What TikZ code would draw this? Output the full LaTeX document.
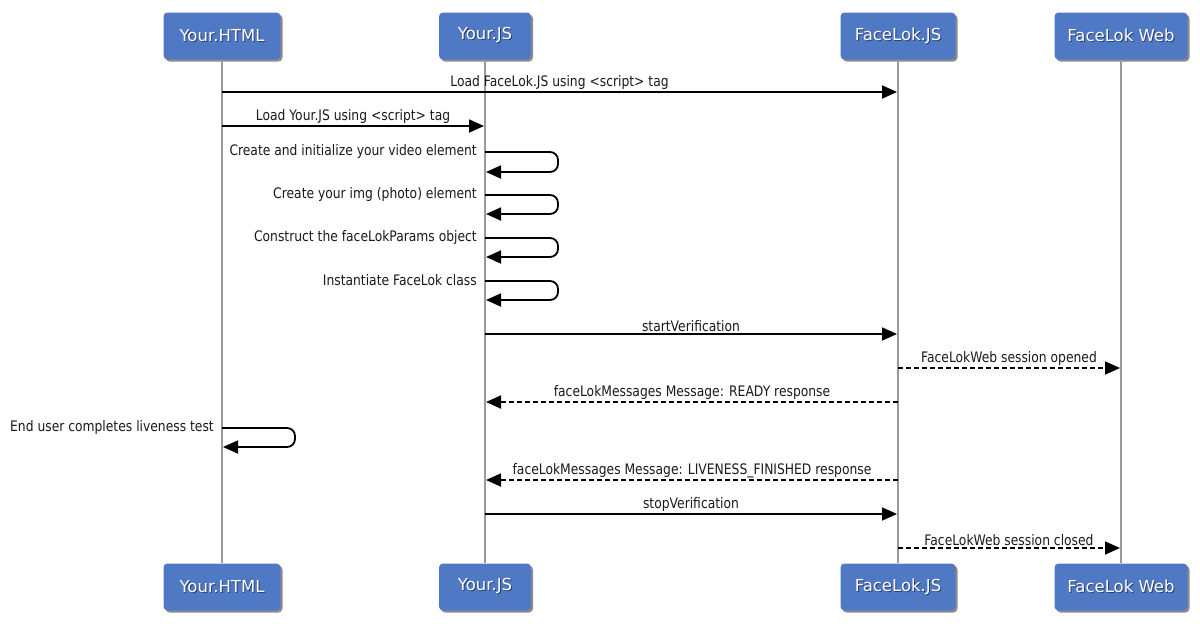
\documentclass[tikz,border=0pt]{standalone}
\usepackage{fontspec}
\setmainfont{DejaVu Sans}
\newfontfamily\msgfont[FakeStretch=0.85]{DejaVu Sans}
\newfontfamily\boxfont{DejaVu Sans}
\usetikzlibrary{arrows.meta,shadows}
\definecolor{boxblue}{HTML}{5079C5}
\definecolor{lifegray}{HTML}{9A9A9A}
\definecolor{msgtext}{HTML}{1A1A1A}
\definecolor{txtshadow}{HTML}{2B4275}
\newcommand\shtext[1]{\leavevmode\rlap{\kern1pt\raisebox{-1pt}{\textcolor{txtshadow}{#1}}}#1}
\tikzset{
  actor/.style={draw=none, fill=boxblue, rounded corners=4pt, minimum height=47pt,
    inner xsep=0pt, text=white, font=\boxfont\fontsize{16.5}{18}\selectfont,
    drop shadow={shadow xshift=2pt, shadow yshift=-2pt, opacity=0.45, fill=black}},
  life/.style={draw=lifegray, line width=1.6pt},
  msg/.style={draw=black, line width=1.8pt, -{Triangle[length=15pt,width=13pt]}},
  reply/.style={msg, dash pattern=on 5pt off 3pt},
  selfloop/.style={msg, rounded corners=8pt},
  lbl/.style={font=\msgfont\fontsize{14.5}{16}\selectfont, text=msgtext, inner sep=0pt}
}
\begin{document}
\begin{tikzpicture}[x=1pt,y=-1pt]
\useasboundingbox (0,0) rectangle (1200,625);
% actors top
\node[actor, minimum width=117pt] (hT) at (222,36) {\shtext{Your.HTML}};
\node[actor, minimum width=92pt] (jT) at (485,36) {\shtext{Your.JS}};
\node[actor, minimum width=115pt] (fT) at (898,36) {\shtext{FaceLok.JS}};
\node[actor, minimum width=133pt] (wT) at (1121,36) {\shtext{FaceLok Web}};
% actors bottom
\node[actor, minimum width=117pt] (hB) at (222,587) {\shtext{Your.HTML}};
\node[actor, minimum width=92pt] (jB) at (485,587) {\shtext{Your.JS}};
\node[actor, minimum width=115pt] (fB) at (898,587) {\shtext{FaceLok.JS}};
\node[actor, minimum width=133pt] (wB) at (1121,587) {\shtext{FaceLok Web}};
% lifelines
\draw[life] (hT.south) -- (hB.north);
\draw[life] (jT.south) -- (jB.north);
\draw[life] (fT.south) -- (fB.north);
\draw[life] (wT.south) -- (wB.north);
% message coordinates
\coordinate (m1a) at (222,92);  \coordinate (m1b) at (897,92);
\coordinate (m2a) at (222,126); \coordinate (m2b) at (484,126);
\coordinate (s1a) at (485,152); \coordinate (s1b) at (486,172);
\coordinate (s2a) at (485,195); \coordinate (s2b) at (486,214);
\coordinate (s3a) at (485,238); \coordinate (s3b) at (486,257);
\coordinate (s4a) at (485,281); \coordinate (s4b) at (486,300);
\coordinate (m7a) at (485,334); \coordinate (m7b) at (897,334);
\coordinate (m8a) at (898,368); \coordinate (m8b) at (1120,368);
\coordinate (m9a) at (898,402); \coordinate (m9b) at (486,402);
\coordinate (s5a) at (222,428); \coordinate (s5b) at (223,447);
\coordinate (m11a) at (898,480); \coordinate (m11b) at (486,480);
\coordinate (m12a) at (485,514); \coordinate (m12b) at (897,514);
\coordinate (m13a) at (898,548); \coordinate (m13b) at (1120,548);
% messages
\draw[msg] (m1a) -- node[lbl, above=1.5pt] (l1) {Load FaceLok.JS using <script> tag} (m1b);
\draw[msg] (m2a) -- node[lbl, above=1.5pt] (l2) {Load Your.JS using <script> tag} (m2b);
\draw[selfloop] (s1a) -- ++(73,0) -- ++(0,20) -- (s1b);
\node[lbl, anchor=east] (l3) at ([xshift=-8pt,yshift=0.5pt]s1a) {Create and initialize your video element};
\draw[selfloop] (s2a) -- ++(73,0) -- ++(0,19) -- (s2b);
\node[lbl, anchor=east] (l4) at ([xshift=-8pt,yshift=0.5pt]s2a) {Create your img (photo) element};
\draw[selfloop] (s3a) -- ++(73,0) -- ++(0,19) -- (s3b);
\node[lbl, anchor=east] (l5) at ([xshift=-8pt,yshift=0.5pt]s3a) {Construct the faceLokParams object};
\draw[selfloop] (s4a) -- ++(73,0) -- ++(0,19) -- (s4b);
\node[lbl, anchor=east] (l6) at ([xshift=-8pt,yshift=0.5pt]s4a) {Instantiate FaceLok class};
\draw[msg] (m7a) -- node[lbl, above=1.5pt] (l7) {startVerification} (m7b);
\draw[reply] (m8a) -- node[lbl, above=1.5pt] (l8) {FaceLokWeb session opened} (m8b);
\draw[reply] (m9a) -- node[lbl, above=1.5pt] (l9) {faceLokMessages Message: READY response} (m9b);
\draw[selfloop] (s5a) -- ++(73,0) -- ++(0,19) -- (s5b);
\node[lbl, anchor=east] (l10) at ([xshift=-8pt,yshift=0.5pt]s5a) {End user completes liveness test};
\draw[reply] (m11a) -- node[lbl, above=1.5pt] (l11) {faceLokMessages Message: LIVENESS\_FINISHED response} (m11b);
\draw[msg] (m12a) -- node[lbl, above=1.5pt] (l12) {stopVerification} (m12b);
\draw[reply] (m13a) -- node[lbl, above=1.5pt] (l13) {FaceLokWeb session closed} (m13b);
\end{tikzpicture}
\end{document}
